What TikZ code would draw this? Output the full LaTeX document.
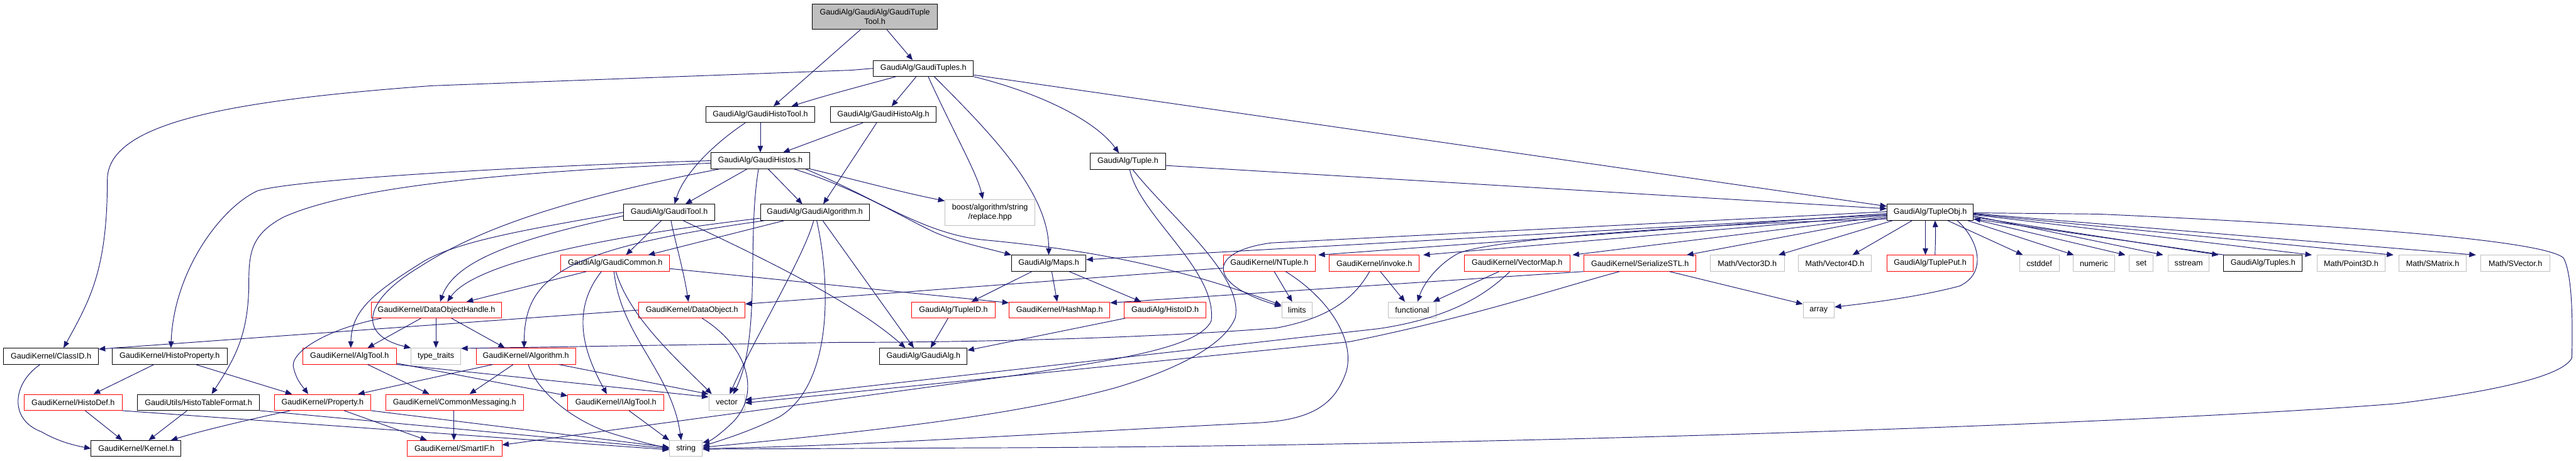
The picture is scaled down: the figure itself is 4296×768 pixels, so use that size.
\documentclass[tikz,border=0pt]{standalone}
\usepackage{fontspec}
\setmainfont{Liberation Sans}
\usetikzlibrary{arrows.meta,calc}
\definecolor{edgec}{HTML}{191970}
\definecolor{gbord}{HTML}{BFBFBF}
\definecolor{rootfill}{HTML}{BFBFBF}
\newcommand\nfont{\fontsize{6.6}{7.8}\selectfont}
\tikzset{
  nb/.style={draw=black, fill=white, line width=0.5pt, inner sep=0pt, minimum height=13.3pt, font=\nfont, align=center},
  nr/.style={nb, draw=red},
  ng/.style={nb, draw=gbord},
  e/.style={draw=edgec, line width=0.5pt, -{Triangle[length=5.5pt,width=4.5pt]}},
}
\begin{document}
\begin{tikzpicture}[x=0.5pt,y=-0.5pt]
\fill[white] (0,0) rectangle (4296,768);
\useasboundingbox (0,0) rectangle (4296,768);
% ---- nodes
\node[nb, fill=rootfill, minimum width=104pt, minimum height=21pt] (root) at (1459,28) {GaudiAlg/GaudiAlg/GaudiTuple\\Tool.h};
\node[nb, minimum width=83.5pt] (tuples) at (1540,114) {GaudiAlg/GaudiTuples.h};
\node[nb, minimum width=90.5pt] (histotool) at (1268,191) {GaudiAlg/GaudiHistoTool.h};
\node[nb, minimum width=88pt] (histoalg) at (1473,191) {GaudiAlg/GaudiHistoAlg.h};
\node[nb, minimum width=82.5pt] (histos) at (1268,268) {GaudiAlg/GaudiHistos.h};
\node[nb, minimum width=76pt] (gtool) at (1116,354) {GaudiAlg/GaudiTool.h};
\node[nb, minimum width=91pt] (galgorithm) at (1359,354) {GaudiAlg/GaudiAlgorithm.h};
\node[ng, minimum width=75pt, minimum height=21.5pt] (boost) at (1651,354) {boost/algorithm/string\\/replace.hpp};
\node[nb, minimum width=62.5pt] (tuple) at (1881,269) {GaudiAlg/Tuple.h};
\node[nb, minimum width=72pt] (tupleobj) at (3219,354) {GaudiAlg/TupleObj.h};
\node[nr, minimum width=90.5pt] (gcommon) at (1026,439) {GaudiAlg/GaudiCommon.h};
\node[nb, minimum width=62pt] (maps) at (1749,439) {GaudiAlg/Maps.h};
\node[nr, minimum width=77pt] (ntuple) at (2117,439) {GaudiKernel/NTuple.h};
\node[nr, minimum width=75pt] (invoke) at (2292,439) {GaudiKernel/invoke.h};
\node[nr, minimum width=88pt] (vectormap) at (2530,439) {GaudiKernel/VectorMap.h};
\node[nr, minimum width=93.5pt] (serialize) at (2735,439) {GaudiKernel/SerializeSTL.h};
\node[ng, minimum width=61.5pt] (vecthree) at (2914,439) {Math/Vector3D.h};
\node[ng, minimum width=61pt] (vecfour) at (3060,439) {Math/Vector4D.h};
\node[nr, minimum width=72pt] (tupleput) at (3219,439) {GaudiAlg/TuplePut.h};
\node[ng, minimum width=33pt] (cstddef) at (3401,439) {cstddef};
\node[ng, minimum width=35pt] (numeric) at (3492,439) {numeric};
\node[ng, minimum width=20pt] (set) at (3571,439) {set};
\node[ng, minimum width=34pt] (sstream) at (3650,439) {sstream};
\node[nb, minimum width=65.5pt] (tuplesh) at (3774,439) {GaudiAlg/Tuples.h};
\node[ng, minimum width=57pt] (pointthree) at (3921,439) {Math/Point3D.h};
\node[ng, minimum width=56pt] (smatrix) at (4057,439) {Math/SMatrix.h};
\node[ng, minimum width=57.5pt] (svector) at (4195,439) {Math/SVector.h};
\node[nr, minimum width=108.5pt] (doh) at (728,517) {GaudiKernel/DataObjectHandle.h};
\node[nr, minimum width=88.5pt] (dataobject) at (1154,517) {GaudiKernel/DataObject.h};
\node[nr, minimum width=69.5pt] (tupleid) at (1590,517) {GaudiAlg/TupleID.h};
\node[nr, minimum width=84pt] (hashmap) at (1767,517) {GaudiKernel/HashMap.h};
\node[nr, minimum width=68.5pt] (histoid) at (1943,517) {GaudiAlg/HistoID.h};
\node[ng, minimum width=25.5pt] (limits) at (2163,517) {limits};
\node[ng, minimum width=39.5pt] (functional) at (2355,517) {functional};
\node[ng, minimum width=26pt] (array) at (3033,517) {array};
\node[nb, minimum width=79pt] (classid) at (85,594) {GaudiKernel/ClassID.h};
\node[nb, minimum width=96pt] (histoprop) at (283,594) {GaudiKernel/HistoProperty.h};
\node[nr, minimum width=78pt] (algtool) at (583,594) {GaudiKernel/AlgTool.h};
\node[ng, minimum width=41.5pt] (typetraits) at (727,594) {type\_traits};
\node[nr, minimum width=83pt] (algorithm) at (877,594) {GaudiKernel/Algorithm.h};
\node[nb, minimum width=73pt] (gaudialg) at (1540,594) {GaudiAlg/GaudiAlg.h};
\node[nr, minimum width=81.5pt] (histodef) at (122,671) {GaudiKernel/HistoDef.h};
\node[nb, minimum width=101.5pt] (histotable) at (331,671) {GaudiUtils/HistoTableFormat.h};
\node[nr, minimum width=80.5pt] (property) at (538,671) {GaudiKernel/Property.h};
\node[nr, minimum width=115pt] (commonmsg) at (758,671) {GaudiKernel/CommonMessaging.h};
\node[nr, minimum width=80pt] (ialgtool) at (1027,671) {GaudiKernel/IAlgTool.h};
\node[ng, minimum width=30pt] (vector) at (1212,671) {vector};
\node[nb, minimum width=75pt] (kernel) at (227,748) {GaudiKernel/Kernel.h};
\node[nr, minimum width=79pt] (smartif) at (758,748) {GaudiKernel/SmartIF.h};
\node[ng, minimum width=27.5pt] (string) at (1144,748) {string};
% ---- edges: root
\draw[e] ($(root.south)+(-24,0)$) -- ($(histotool.north)+(22,0)$);
\draw[e] ($(root.south)+(20,0)$) -- ($(tuples.north)+(-18,0)$);
% tuples
\draw[e] ($(tuples.south)+(-46,0)$) .. controls (1450,140) and (1380,158) .. ($(histotool.north)+(52,0)$);
\draw[e] ($(tuples.south)+(-12,0)$) -- ($(histoalg.north)+(14,0)$);
\draw[e] (tuples.west) -- (1420,117) -- (720,143) .. controls (380,168) and (179,205) .. (179,300) .. controls (179,450) and (150,500) .. ($(classid.north)+(21,0)$);
\draw[e] ($(tuples.south)+(18,0)$) .. controls (1650,220) and (1749,320) .. (maps.north);
\draw[e] ($(tuples.south)+(8,0)$) .. controls (1590,220) and (1630,290) .. ($(boost.north)+(-12,0)$);
\draw[e] (tuples.south east) .. controls (1745,158) and (1830,205) .. ($(tuple.north)+(-15,0)$);
\draw[e] ($(tuples.east)+(0,11)$) -- ($(tupleobj.west)+(0,-10)$);
% histotool / histoalg
\draw[e] (histotool.south) -- (histos.north);
\draw[e] ($(histotool.south)+(-25,0)$) .. controls (1190,240) and (1140,290) .. ($(gtool.north)+(9,0)$);
\draw[e] ($(histoalg.south)+(-34,0)$) -- ($(histos.north)+(38,0)$);
\draw[e] ($(histoalg.south)+(-11,0)$) -- ($(galgorithm.north)+(14,0)$);
% histos
\draw[e] ($(histos.south)+(-22,0)$) -- ($(gtool.north)+(27,0)$);
\draw[e] ($(histos.south)+(13,0)$) -- ($(galgorithm.north)+(-21,0)$);
\draw[e] (histos.west) .. controls (900,276) and (500,298) .. (430,318) .. controls (370,345) and (290,450) .. ($(histoprop.north)+(2,0)$);
\draw[e] ($(histos.west)+(0,4)$) .. controls (900,285) and (600,305) .. (473,362) .. controls (420,390) and (415,420) .. (415,470) .. controls (415,560) and (390,600) .. ($(histotable.north)+(22,0)$);
\draw[e] ($(histos.south)+(-68,0)$) .. controls (950,330) and (800,380) .. (700,445) .. controls (600,505) and (600,560) .. (typetraits.north west);
\draw[e] ($(histos.south)+(-3,0)$) .. controls (1245,400) and (1270,560) .. ($(vector.north)+(11,0)$);
\draw[e] (histos.south east) .. controls (1420,298) and (1500,320) .. ($(boost.north west)+(0,3)$);
\draw[e] ($(histos.south)+(56,0)$) .. controls (1430,315) and (1500,360) .. (1560,388) .. controls (1600,405) and (1650,415) .. (maps.north west);
\draw[e] ($(histos.south)+(75,0)$) .. controls (1460,330) and (1540,390) .. (1640,400) .. controls (1800,415) and (1950,440) .. ($(limits.west)+(0,-8)$);
% gtool
\draw[e] (gtool.west) .. controls (900,380) and (760,400) .. (700,440) .. controls (620,490) and (586,520) .. ($(algtool.north)+(2,0)$);
\draw[e] ($(gtool.west)+(0,6)$) .. controls (880,395) and (760,430) .. ($(doh.north)+(6,0)$);
\draw[e] ($(gtool.south)+(-13,0)$) -- ($(gcommon.north)+(18,0)$);
\draw[e] ($(gtool.south)+(3,0)$) .. controls (1125,400) and (1140,450) .. ($(dataobject.north)+(-6,0)$);
\draw[e] ($(gtool.south)+(23,0)$) .. controls (1250,420) and (1420,500) .. ($(gaudialg.north)+(-30,0)$);
% galgorithm
\draw[e] ($(galgorithm.west)+(0,10)$) .. controls (1000,395) and (790,440) .. ($(doh.north)+(18,0)$);
\draw[e] ($(galgorithm.south west)+(8,0)$) .. controls (940,415) and (875,460) .. ($(algorithm.north)+(-3,0)$);
\draw[e] ($(galgorithm.south)+(-51,0)$) -- ($(gcommon.north)+(55,0)$);
\draw[e] ($(galgorithm.south)+(-2,0)$) .. controls (1340,430) and (1260,560) .. ($(vector.north)+(5,0)$);
\draw[e] ($(galgorithm.south)+(3,0)$) .. controls (1385,470) and (1390,640) .. (1300,695) .. controls (1250,720) and (1200,735) .. ($(string.east)+(0,-4)$);
\draw[e] ($(galgorithm.south)+(13,0)$) -- ($(gaudialg.north)+(-16,0)$);
% gcommon
\draw[e] ($(gcommon.south)+(-48,0)$) -- ($(doh.north)+(50,0)$);
\draw[e] ($(gcommon.south)+(-23,0)$) .. controls (950,520) and (975,590) .. ($(ialgtool.north)+(-15,0)$);
\draw[e] ($(gcommon.south)+(-2,0)$) .. controls (1035,560) and (1120,620) .. ($(string.north)+(-8,0)$);
\draw[e] ($(gcommon.south)+(1,0)$) .. controls (1050,530) and (1130,600) .. ($(vector.north)+(-25,0)$);
\draw[e] ($(gcommon.east)+(0,9)$) -- ($(hashmap.west)+(0,-12)$);
% dataobject
\draw[e] (dataobject.west) -- ($(classid.north east)+(0,2)$);
\draw[e] ($(dataobject.south)+(17,0)$) .. controls (1250,580) and (1270,660) .. (1219,707) .. controls (1200,725) and (1185,735) .. ($(string.north east)+(0,4)$);
% doh
\draw[e] ($(doh.south)+(-1,0)$) -- (typetraits.north);
\draw[e] ($(doh.south)+(25,0)$) -- ($(algorithm.north)+(-35,0)$);
\draw[e] ($(doh.south)+(-92,0)$) .. controls (540,550) and (480,590) .. (490,615) .. controls (495,635) and (505,645) .. ($(property.north)+(-24,0)$);
\draw[e] ($(doh.south)+(-26,0)$) -- ($(algtool.north)+(30,0)$);
% algtool
\draw[e] ($(algtool.south)+(30,0)$) -- ($(commonmsg.north)+(-42,0)$);
\draw[e] ($(algtool.south east)+(0,-2)$) -- ($(ialgtool.west)+(0,-11)$);
\draw[e] (algtool.south east) -- ($(vector.west)+(0,-9)$);
% algorithm
\draw[e] ($(algorithm.south)+(-55,0)$) -- ($(property.north)+(59,0)$);
\draw[e] ($(algorithm.south)+(-21,0)$) -- ($(commonmsg.north)+(25,0)$);
\draw[e] ($(algorithm.south)+(4,0)$) .. controls (895,650) and (950,700) .. (1021,723) .. controls (1060,735) and (1090,742) .. (string.west);
\draw[e] ($(algorithm.south)+(55,0)$) -- (vector.north west);
\draw[e] ($(ialgtool.south)+(22,0)$) -- (string.north west);
% lower-left
\draw[e] ($(histoprop.south)+(-26,0)$) -- ($(histodef.north)+(34,0)$);
\draw[e] ($(histoprop.south)+(43,0)$) -- ($(property.north)+(-51,0)$);
\draw[e] ($(classid.south)+(-18,0)$) .. controls (20,640) and (15,700) .. (69,720) .. controls (95,735) and (120,742) .. (kernel.west);
\draw[e] ($(histodef.south)+(20,0)$) -- ($(kernel.north)+(-23,0)$);
\draw[e] (histodef.south east) -- ($(string.west)+(0,2)$);
\draw[e] ($(histotable.south)+(-19,0)$) -- ($(kernel.north)+(21,0)$);
\draw[e] (histotable.south east) -- (string.west);
\draw[e] ($(property.south)+(-54,0)$) .. controls (400,703) and (330,720) .. ($(kernel.north)+(58,0)$);
\draw[e] ($(property.south)+(36,0)$) -- ($(smartif.north)+(-46,0)$);
\draw[e] (property.south east) -- ($(string.west)+(0,-2)$);
\draw[e] ($(commonmsg.south)+(-1,0)$) -- ($(smartif.north)+(-1,0)$);
% maps and ids
\draw[e] ($(maps.south)+(-28,0)$) -- ($(tupleid.north)+(30,0)$);
\draw[e] ($(maps.south)+(5,0)$) -- ($(hashmap.north)+(-4,0)$);
\draw[e] ($(maps.south)+(34,0)$) -- ($(histoid.north)+(-40,0)$);
\draw[e] ($(tupleid.south)+(-9,0)$) -- ($(gaudialg.north)+(12,0)$);
\draw[e] ($(histoid.south west)+(2,0)$) -- ($(gaudialg.north east)+(0,4)$);
% tuple
\draw[e] ($(tuple.east)+(0,7)$) -- ($(tupleobj.west)+(0,-6)$);
\draw[e] ($(tuple.south)+(3,0)$) .. controls (1900,360) and (2030,450) .. (2020,535) .. controls (2000,580) and (1860,600) .. (1700,625) -- ($(smartif.east)+(0,-6)$);
\draw[e] ($(tuple.south)+(8,0)$) .. controls (1950,360) and (2075,460) .. (2060,530) .. controls (2040,580) and (1950,620) .. (1859,647) .. controls (1700,690) and (1500,715) .. ($(string.east)+(0,-2)$);
% ntuple
\draw[e] ($(ntuple.south)+(8,0)$) -- ($(limits.north)+(-8,0)$);
\draw[e] ($(ntuple.west)+(0,8)$) -- ($(dataobject.east)+(0,-10)$);
\draw[e] ($(ntuple.south)+(27,0)$) .. controls (2220,500) and (2260,570) .. (2245,620) .. controls (2225,680) and (2180,700) .. (2100,705) .. controls (1700,725) and (1400,745) .. (string.east);
% invoke
\draw[e] ($(invoke.south)+(10,0)$) -- ($(functional.north)+(-12,0)$);
\draw[e] ($(invoke.south)+(-8,0)$) .. controls (2260,495) and (2220,530) .. (2128,547) .. controls (1900,565) and (1600,571) .. (1400,571) -- ($(typetraits.east)+(0,-13)$);
% vectormap
\draw[e] ($(vectormap.south)+(-30,0)$) -- ($(functional.north east)+(-5,0)$);
\draw[e] ($(vectormap.south)+(-12,0)$) .. controls (2480,490) and (2420,530) .. (2300,548) -- ($(vector.east)+(0,-4)$);
% serialize
\draw[e] (serialize.south west) -- ($(hashmap.east)+(0,-12)$);
\draw[e] ($(serialize.south)+(49,0)$) -- ($(array.west)+(0,-10)$);
\draw[e] ($(serialize.south)+(-34,0)$) .. controls (2600,480) and (2450,530) .. (2250,570) -- ($(vector.east)+(0,1)$);
% tupleobj fan
\draw[e] ($(tupleobj.west)+(0,4)$) -- ($(maps.east)+(0,-6)$);
\draw[e] ($(tupleobj.west)+(0,2)$) -- ($(ntuple.north east)+(4,0)$);
\draw[e] ($(tupleobj.west)+(0,5)$) -- ($(invoke.north east)+(6,0)$);
\draw[e] ($(tupleobj.west)+(0,7)$) -- ($(vectormap.north east)+(4,0)$);
\draw[e] ($(tupleobj.west)+(0,9)$) -- ($(serialize.north east)+(-16,0)$);
\draw[e] ($(tupleobj.west)+(0,-1)$) -- (2120,405) .. controls (2010,420) and (2015,475) .. ($(limits.west)+(0,-6)$);
\draw[e] ($(tupleobj.west)+(0,11)$) .. controls (2800,375) and (2480,400) .. (2431,423) .. controls (2400,440) and (2375,470) .. ($(functional.north)+(9,0)$);
\draw[e] ($(tupleobj.south west)+(10,0)$) -- ($(vecthree.north east)+(-10,0)$);
\draw[e] ($(tupleobj.south)+(-30,0)$) -- ($(vecfour.north east)+(-32,0)$);
\draw[e] ($(tupleobj.south)+(-8,0)$) -- ($(tupleput.north)+(-8,0)$);
\draw[e] ($(tupleput.north)+(8,0)$) .. controls (3228,395) and (3228,385) .. ($(tupleobj.south)+(8,0)$);
\draw[e] ($(tupleobj.south)+(29,0)$) -- ($(cstddef.north west)+(6,0)$);
\draw[e] ($(tupleobj.south east)+(-10,0)$) -- ($(numeric.north west)+(2,0)$);
\draw[e] ($(tupleobj.south east)+(0,-2)$) -- ($(set.north west)+(-6,0)$);
\draw[e] ($(tupleobj.east)+(0,6)$) -- ($(sstream.north west)+(-8,0)$);
\draw[e] ($(tupleobj.east)+(0,8)$) -- ($(tuplesh.north west)+(-8,0)$);
\draw[e] ($(tuplesh.north west)+(2,0)$) -- ($(tupleobj.east)+(0,11)$);
\draw[e] ($(tupleobj.east)+(0,4)$) -- ($(pointthree.north west)+(-8,0)$);
\draw[e] ($(tupleobj.east)+(0,3)$) -- ($(smatrix.north west)+(-9,0)$);
\draw[e] ($(tupleobj.east)+(0,2)$) -- ($(svector.north west)+(-8,0)$);
\draw[e] ($(tupleobj.south)+(45,0)$) .. controls (3300,400) and (3315,455) .. (3268,477) .. controls (3200,495) and (3120,505) .. ($(array.east)+(0,-5)$);
\draw[e] ($(tupleobj.east)+(0,1)$) -- (3500,357) .. controls (3900,375) and (4240,400) .. (4275,430) .. controls (4292,460) and (4290,560) .. (4289,597) .. controls (4270,635) and (4100,660) .. (3998,673) .. controls (3600,705) and (2500,745) .. (1600,747) -- ($(string.east)+(0,1)$);
\end{tikzpicture}
\end{document}
